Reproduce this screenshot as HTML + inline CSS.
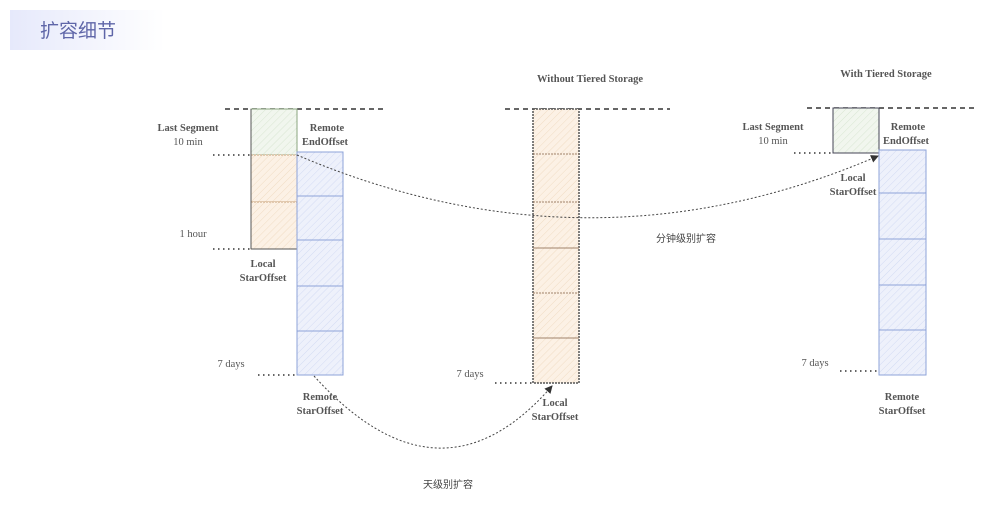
<!DOCTYPE html>
<html><head><meta charset="utf-8"><style>
html,body{margin:0;padding:0;background:#fff;}
svg text{font-family:"Liberation Serif","Noto Serif CJK SC",serif;font-weight:bold;font-size:10.5px;fill:#555;}
svg text.n{font-weight:normal;}
svg text.cn{font-family:"Liberation Sans","Noto Sans CJK SC",sans-serif;font-weight:normal;fill:#444;}
</style></head><body>
<svg width="981" height="502" viewBox="0 0 981 502" xmlns="http://www.w3.org/2000/svg">
<defs>
<linearGradient id="bg" x1="0" x2="1"><stop offset="0" stop-color="#e6e9fb"/><stop offset="1" stop-color="#ffffff"/></linearGradient>
<pattern id="hg" width="5" height="5" patternUnits="userSpaceOnUse" patternTransform="rotate(45)"><rect width="5" height="5" fill="#f1f6ee"/><line x1="0" y1="0" x2="0" y2="5" stroke="#d8e6d2" stroke-width="1"/></pattern>
<pattern id="ho" width="5" height="5" patternUnits="userSpaceOnUse" patternTransform="rotate(45)"><rect width="5" height="5" fill="#fcf1e5"/><line x1="0" y1="0" x2="0" y2="5" stroke="#f0dcc4" stroke-width="1"/></pattern>
<pattern id="hb" width="5" height="5" patternUnits="userSpaceOnUse" patternTransform="rotate(45)"><rect width="5" height="5" fill="#eef1fb"/><line x1="0" y1="0" x2="0" y2="5" stroke="#d3dbf3" stroke-width="1"/></pattern>
<marker id="ar" markerWidth="8" markerHeight="8" refX="7" refY="4" orient="auto" markerUnits="userSpaceOnUse"><path d="M0,0 L8,4 L0,8 z" fill="#333"/></marker>
</defs>
<rect x="10" y="10" width="155" height="40" fill="url(#bg)"/>
<text x="40" y="37" class="cn" style="font-size:19px;fill:#5f66a8">扩容细节</text>

<!-- LEFT -->
<line x1="225" y1="109" x2="385" y2="109" stroke="#333" stroke-width="1.5" stroke-dasharray="5,4"/>
<rect x="251" y="109" width="46" height="46" fill="url(#hg)" stroke="#8aa57f" stroke-width="1"/>
<rect x="251" y="155" width="46" height="47" fill="url(#ho)" stroke="#c9a27a" stroke-width="1" stroke-dasharray="2,1"/>
<rect x="251" y="202" width="46" height="47" fill="url(#ho)" stroke="#c9a27a" stroke-width="1" stroke-dasharray="2,1"/>
<line x1="251" y1="109" x2="251" y2="249" stroke="#555" stroke-width="1"/>
<line x1="251" y1="249" x2="297" y2="249" stroke="#555" stroke-width="1"/>
<g stroke="#8ea3d8" stroke-width="1" fill="url(#hb)">
<rect x="297" y="152" width="46" height="223"/>
<line x1="297" y1="196" x2="343" y2="196"/><line x1="297" y1="240" x2="343" y2="240"/>
<line x1="297" y1="286" x2="343" y2="286"/><line x1="297" y1="331" x2="343" y2="331"/>
</g>
<g stroke="#333" stroke-width="1.5" stroke-dasharray="1.5,3.5">
<line x1="213" y1="155" x2="251" y2="155"/><line x1="213" y1="249" x2="251" y2="249"/><line x1="258" y1="375" x2="297" y2="375"/>
<line x1="495" y1="383" x2="533" y2="383"/>
<line x1="794" y1="153" x2="833" y2="153"/><line x1="840" y1="371" x2="879" y2="371"/>
</g>
<text x="188" y="131" text-anchor="middle">Last Segment</text>
<text x="188" y="145" text-anchor="middle" class="n">10 min</text>
<text x="327" y="131" text-anchor="middle">Remote</text>
<text x="325" y="145" text-anchor="middle">EndOffset</text>
<text x="193" y="237" text-anchor="middle" class="n">1 hour</text>
<text x="263" y="267" text-anchor="middle">Local</text>
<text x="263" y="281" text-anchor="middle">StarOffset</text>
<text x="231" y="367" text-anchor="middle" class="n">7 days</text>
<text x="320" y="400" text-anchor="middle">Remote</text>
<text x="320" y="414" text-anchor="middle">StarOffset</text>

<!-- MIDDLE -->
<text x="590" y="82" text-anchor="middle">Without Tiered Storage</text>
<line x1="505" y1="109" x2="670" y2="109" stroke="#333" stroke-width="1.5" stroke-dasharray="5,4"/>
<g stroke="#a0826a" stroke-width="1" fill="url(#ho)">
<rect x="533" y="109" width="46" height="274" stroke="#555" stroke-width="1.5" stroke-dasharray="2,1"/>
<line x1="533" y1="154" x2="579" y2="154" stroke-dasharray="2,1"/><line x1="533" y1="202" x2="579" y2="202" stroke-dasharray="2,1"/>
<line x1="533" y1="248" x2="579" y2="248"/><line x1="533" y1="293" x2="579" y2="293" stroke-dasharray="2,1"/>
<line x1="533" y1="338" x2="579" y2="338"/>
</g>
<text x="470" y="377" text-anchor="middle" class="n">7 days</text>
<text x="555" y="406" text-anchor="middle">Local</text>
<text x="555" y="420" text-anchor="middle">StarOffset</text>

<!-- RIGHT -->
<text x="886" y="77" text-anchor="middle">With Tiered Storage</text>
<line x1="807" y1="108" x2="975" y2="108" stroke="#333" stroke-width="1.5" stroke-dasharray="5,4"/>
<rect x="833" y="108" width="46" height="45" fill="url(#hg)" stroke="#445" stroke-width="1"/>
<g stroke="#8ea3d8" stroke-width="1" fill="url(#hb)">
<rect x="879" y="150" width="47" height="225"/>
<line x1="879" y1="193" x2="926" y2="193"/><line x1="879" y1="239" x2="926" y2="239"/>
<line x1="879" y1="285" x2="926" y2="285"/><line x1="879" y1="330" x2="926" y2="330"/>
</g>
<text x="773" y="130" text-anchor="middle">Last Segment</text>
<text x="773" y="144" text-anchor="middle" class="n">10 min</text>
<text x="908" y="130" text-anchor="middle">Remote</text>
<text x="906" y="144" text-anchor="middle">EndOffset</text>
<text x="853" y="181" text-anchor="middle">Local</text>
<text x="853" y="195" text-anchor="middle">StarOffset</text>
<text x="815" y="366" text-anchor="middle" class="n">7 days</text>
<text x="902" y="400" text-anchor="middle">Remote</text>
<text x="902" y="414" text-anchor="middle">StarOffset</text>

<!-- curves -->
<path d="M297,155 Q590,280 878,156" fill="none" stroke="#444" stroke-width="1" stroke-dasharray="2,2" marker-end="url(#ar)"/>
<text x="686" y="242" text-anchor="middle" class="cn" style="font-size:10px">分钟级别扩容</text>
<path d="M314,376 Q440,515 552,386" fill="none" stroke="#444" stroke-width="1" stroke-dasharray="2,2" marker-end="url(#ar)"/>
<text x="448" y="488" text-anchor="middle" class="cn" style="font-size:10px">天级别扩容</text>
</svg>
</body></html>
